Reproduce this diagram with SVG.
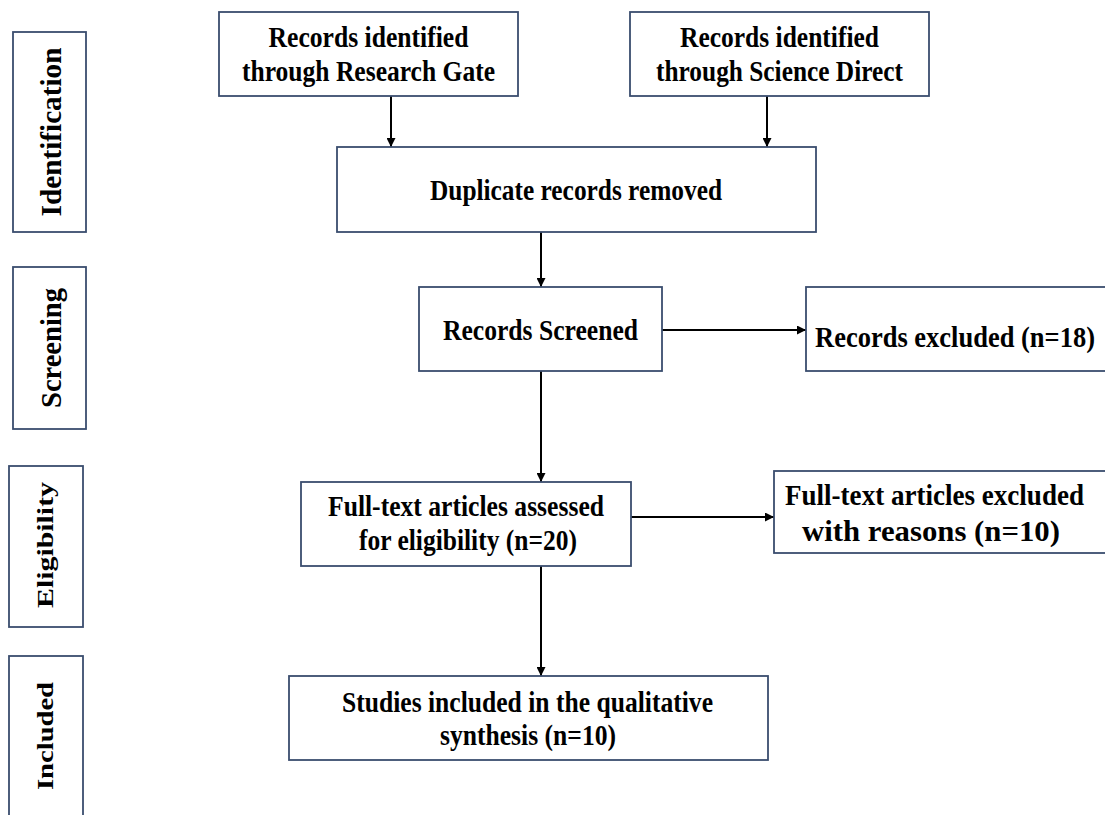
<svg xmlns="http://www.w3.org/2000/svg" width="1105" height="815" viewBox="0 0 1105 815">
<defs>
<style>
.box{fill:#ffffff;stroke:#3a4d6e;stroke-width:1.8}
.t{font-family:"Liberation Serif","Times New Roman",serif;font-weight:bold;font-size:29px;fill:#000;text-anchor:middle}
.side{font-family:"Liberation Serif","Times New Roman",serif;font-weight:bold;fill:#000;text-anchor:middle}
.arr{stroke:#000;stroke-width:2;fill:none;marker-end:url(#ah)}
</style>
<marker id="ah" viewBox="0 0 10 10" refX="10" refY="5" markerWidth="4.5" markerHeight="4.5" orient="auto" markerUnits="strokeWidth">
<path d="M0,0 L10,5 L0,10 z" fill="#000"/>
</marker>
</defs>
<rect width="1105" height="815" fill="#ffffff"/>

<g id="stage-identification">
<rect class="box" x="13" y="32" width="73" height="200"/>
<text class="side" font-size="30" transform="translate(61,132) rotate(-90)" textLength="169" lengthAdjust="spacingAndGlyphs">Identification</text>
</g>
<g id="stage-screening">
<rect class="box" x="13" y="267" width="73" height="162"/>
<text class="side" font-size="30" transform="translate(61,348) rotate(-90)" textLength="120" lengthAdjust="spacingAndGlyphs">Screening</text>
</g>
<g id="stage-eligibility">
<rect class="box" x="9" y="466" width="74" height="161"/>
<text class="side" font-size="24" transform="translate(53,545) rotate(-90)" textLength="126" lengthAdjust="spacingAndGlyphs">Eligibility</text>
</g>
<g id="stage-included">
<rect class="box" x="9" y="656" width="74" height="170"/>
<text class="side" font-size="24" transform="translate(53,736) rotate(-90)" textLength="108" lengthAdjust="spacingAndGlyphs">Included</text>
</g>

<g id="connectors">
<line class="arr" x1="391" y1="96" x2="391" y2="147"/>
<line class="arr" x1="767" y1="96" x2="767" y2="147"/>
<line class="arr" x1="541" y1="232" x2="541" y2="287"/>
<line class="arr" x1="662" y1="330" x2="806" y2="330"/>
<line class="arr" x1="541" y1="371" x2="541" y2="482"/>
<line class="arr" x1="631" y1="517" x2="774" y2="517"/>
<line class="arr" x1="541" y1="566" x2="541" y2="676"/>
</g>

<g id="node-researchgate">
<rect class="box" x="219" y="12" width="299" height="84"/>
<text class="t" x="368.5" y="47" textLength="200" lengthAdjust="spacingAndGlyphs">Records identified</text>
<text class="t" x="368.5" y="81" textLength="253" lengthAdjust="spacingAndGlyphs">through Research Gate</text>
</g>
<g id="node-sciencedirect">
<rect class="box" x="630" y="12" width="299" height="84"/>
<text class="t" x="779.5" y="47" textLength="199" lengthAdjust="spacingAndGlyphs">Records identified</text>
<text class="t" x="779.5" y="81" textLength="247" lengthAdjust="spacingAndGlyphs">through Science Direct</text>
</g>
<g id="node-duplicates">
<rect class="box" x="337" y="147" width="479" height="85"/>
<text class="t" x="576" y="200" textLength="292" lengthAdjust="spacingAndGlyphs">Duplicate records removed</text>
</g>
<g id="node-screened">
<rect class="box" x="419" y="287" width="243" height="84"/>
<text class="t" x="540.5" y="340" textLength="195" lengthAdjust="spacingAndGlyphs">Records Screened</text>
</g>
<g id="node-excluded">
<rect class="box" x="806" y="287" width="310" height="84"/>
<text class="t" x="955" y="347" textLength="280" lengthAdjust="spacingAndGlyphs">Records excluded (n=18)</text>
</g>
<g id="node-fulltext">
<rect class="box" x="301" y="482" width="330" height="84"/>
<text class="t" x="466" y="516" textLength="276" lengthAdjust="spacingAndGlyphs">Full-text articles assessed</text>
<text class="t" x="468" y="550" textLength="218" lengthAdjust="spacingAndGlyphs">for eligibility (n=20)</text>
</g>
<g id="node-fulltext-excluded">
<rect class="box" x="774" y="471" width="342" height="82"/>
<text class="t" x="934.5" y="505" textLength="299" lengthAdjust="spacingAndGlyphs">Full-text articles excluded</text>
<text class="t" x="931" y="541" textLength="258" lengthAdjust="spacingAndGlyphs">with reasons (n=10)</text>
</g>
<g id="node-included">
<rect class="box" x="289" y="676" width="479" height="84"/>
<text class="t" x="527.5" y="712" textLength="371" lengthAdjust="spacingAndGlyphs">Studies included in the qualitative</text>
<text class="t" x="528" y="745" textLength="176" lengthAdjust="spacingAndGlyphs">synthesis (n=10)</text>
</g>
</svg>
